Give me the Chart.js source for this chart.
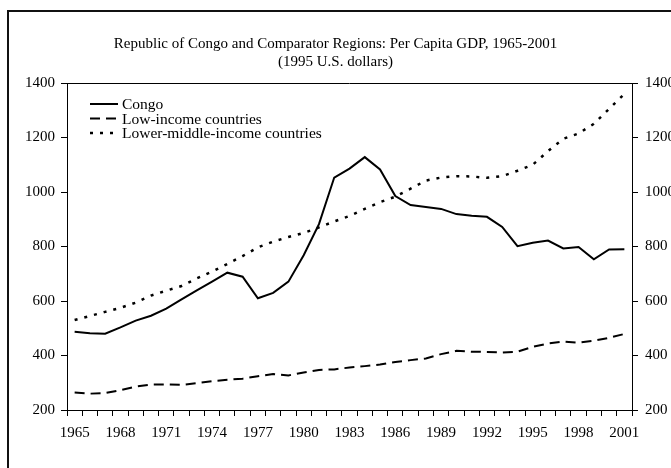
<!DOCTYPE html>
<html>
<head>
<meta charset="utf-8">
<script src="https://cdn.jsdelivr.net/npm/chart.js@4.4.0/dist/chart.umd.min.js"></script>
<style>
  html, body { margin: 0; padding: 0; background: #fff; }
  #wrap { width: 671px; height: 468px; }
</style>
</head>
<body>
<div id="wrap"><canvas id="gdpChart" width="671" height="468"></canvas></div>
<script>
// years on the x axis
const years = ['1965', '1966', '1967', '1968', '1969', '1970', '1971', '1972', '1973', '1974',
  '1975', '1976', '1977', '1978', '1979', '1980', '1981', '1982', '1983', '1984',
  '1985', '1986', '1987', '1988', '1989', '1990', '1991', '1992', '1993', '1994',
  '1995', '1996', '1997', '1998', '1999', '2000', '2001'];

// per capita GDP, 1995 US dollars
const congo = [487, 482, 480, 503, 528, 546, 572, 606, 639, 671,
  704, 689, 610, 630, 671, 768, 882, 1053, 1086, 1128,
  1083, 985, 952, 945, 938, 919, 913, 909, 872, 801,
  814, 822, 793, 798, 753, 789, 790];

const lowIncome = [264, 260, 262, 273, 286, 293, 294, 292, 299, 306,
  311, 315, 324, 332, 327, 338, 347, 349, 356, 361,
  367, 376, 383, 389, 405, 417, 414, 413, 411, 414,
  432, 444, 451, 447, 454, 465, 479];

const lowerMiddle = [530, 545, 560, 575, 594, 620, 638, 655, 683, 708,
  736, 765, 797, 818, 835, 850, 870, 892, 912, 938,
  963, 983, 1012, 1042, 1053, 1058, 1057, 1052, 1058, 1078,
  1100, 1150, 1195, 1215, 1250, 1305, 1360];

const seriesNames = ['Congo', 'Low-income countries', 'Lower-middle-income countries'];
const yTicks = [200, 400, 600, 800, 1000, 1200, 1400];

const titleLines = ['Republic of Congo and Comparator Regions: Per Capita GDP, 1965-2001', '(1995 U.S. dollars)'];

Chart.defaults.font.family = "'Liberation Serif', 'Times New Roman', serif";
Chart.defaults.font.size = 15;
Chart.defaults.color = '#000';

// outer frame + box around the plot area
const framePlugin = {
  id: 'frame',
  beforeDraw(chart) {
    const ctx = chart.ctx;
    ctx.save();
    ctx.fillStyle = '#fff';
    ctx.fillRect(0, 0, chart.width, chart.height);
    ctx.strokeStyle = '#111';
    ctx.lineWidth = 2;
    ctx.strokeRect(8, 11, chart.width + 20, chart.height + 20);
    ctx.restore();
  },
  afterDatasetsDraw(chart) {
    const a = chart.chartArea;
    const ctx = chart.ctx;
    ctx.save();
    ctx.strokeStyle = '#000';
    ctx.lineWidth = 1;
    ctx.beginPath();
    ctx.moveTo(a.left, a.top + 0.5);
    ctx.lineTo(a.right, a.top + 0.5);
    ctx.stroke();
    ctx.restore();
  }
};

// legend drawn inside the plot, top-left
const innerLegend = {
  id: 'innerLegend',
  afterDatasetsDraw(chart) {
    const ctx = chart.ctx;
    const x0 = chart.chartArea.left + 23;
    let y = chart.chartArea.top + 22;
    ctx.save();
    ctx.font = "15.5px 'Liberation Serif', 'Times New Roman', serif";
    ctx.textBaseline = 'middle';
    ctx.fillStyle = '#000';
    chart.data.datasets.forEach(ds => {
      ctx.strokeStyle = ds.borderColor;
      ctx.lineWidth = ds.borderWidth;
      ctx.setLineDash(ds.borderDash || []);
      ctx.beginPath();
      ctx.moveTo(x0, y - 1);
      ctx.lineTo(x0 + 28, y - 1);
      ctx.stroke();
      ctx.setLineDash([]);
      ctx.fillText(ds.label, x0 + 32, y);
      y += 14.5;
    });
    ctx.restore();
  }
};

const plainNumber = v => String(v);

const ctx = document.getElementById('gdpChart').getContext('2d');

new Chart(ctx, {
  type: 'line',
  data: {
    labels: years,
    datasets: [
      { label: seriesNames[0], data: congo, borderColor: '#000', borderWidth: 2, borderDash: [] },
      { label: seriesNames[1], data: lowIncome, borderColor: '#000', borderWidth: 2, borderDash: [10, 6] },
      { label: seriesNames[2], data: lowerMiddle, borderColor: '#000', borderWidth: 2.5, borderDash: [3, 7] }
    ]
  },
  options: {
    responsive: false,
    animation: false,
    devicePixelRatio: 1,
    layout: { padding: 0 },
    elements: {
      point: { radius: 0 },
      line: { tension: 0, fill: false }
    },
    plugins: {
      legend: { display: false },
      tooltip: { enabled: false },
      title: {
        display: true,
        text: titleLines,
        color: '#000',
        font: { size: 15, weight: 'normal', lineHeight: 1.2 },
        padding: { top: 35, bottom: 12 }
      }
    },
    scales: {
      x: {
        type: 'category',
        offset: true,
        grid: { offset: true, drawOnChartArea: false, tickLength: 6, color: '#000' },
        border: { color: '#000', width: 1 },
        ticks: {
          autoSkip: false,
          maxRotation: 0,
          padding: 8,
          callback: function (val, i) { return i % 3 === 0 ? years[i] : ''; }
        },
        afterFit: s => { s.height = 58; }
      },
      y: {
        position: 'left',
        min: 200,
        max: 1400,
        afterBuildTicks: s => { s.ticks = yTicks.map(v => ({ value: v })); },
        grid: { drawOnChartArea: false, tickLength: 6, color: '#000' },
        border: { color: '#000', width: 1 },
        ticks: { padding: 6, callback: plainNumber },
        afterFit: s => { s.width = 67; }
      },
      y2: {
        position: 'right',
        min: 200,
        max: 1400,
        afterBuildTicks: s => { s.ticks = yTicks.map(v => ({ value: v })); },
        grid: { drawOnChartArea: false, tickLength: 6, color: '#000' },
        border: { color: '#000', width: 1 },
        ticks: { padding: 7, callback: plainNumber },
        afterFit: s => { s.width = 39; }
      }
    }
  },
  plugins: [framePlugin, innerLegend]
});
</script>
</body>
</html>
